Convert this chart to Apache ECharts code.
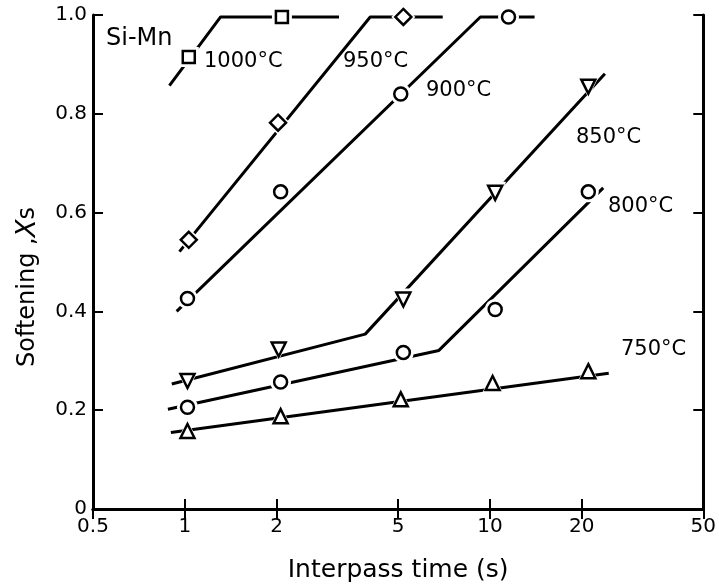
<!DOCTYPE html>
<html>
<head>
<meta charset="utf-8">
<script src="https://cdn.jsdelivr.net/npm/echarts@6/dist/echarts.min.js"></script>
<style>
  html, body {margin: 0; padding: 0; background: #fff;}
  #chart {width: 719px; height: 588px;}
</style>
</head>
<body>
<div id="chart"></div>
<script>
  // tick values and labels
  const xTicks = [0.5, 1, 2, 5, 10, 20, 50]
  const xTickLabels = ['0.5', '1', '2', '5', '10', '20', '50']
  const yTickLabels = ['0', '0.2', '0.4', '0.6', '0.8', '1.0']

  // measured points, [interpass time (s), softening]
  const pts1000 = [[1.03, 0.915], [2.08, 0.996]]
  const pts950 = [[1.03, 0.545], [2.02, 0.782], [5.2, 0.996]]
  const pts900 = [[1.02, 0.426], [2.06, 0.642], [5.1, 0.84], [11.5, 0.996]]
  const pts850 = [[1.02, 0.259], [2.03, 0.323], [5.2, 0.424], [10.4, 0.64], [21, 0.855]]
  const pts800 = [[1.02, 0.206], [2.06, 0.257], [5.2, 0.317], [10.4, 0.404], [21, 0.642]]
  const pts750 = [[1.02, 0.158], [2.06, 0.188], [5.1, 0.222], [10.2, 0.255], [21, 0.279]]

  // fitted lines (start, kinks, end)
  const fit1000 = [[0.89, 0.857], [1.31, 0.996], [3.2, 0.996]]
  const fit950 = [[0.96, 0.521], [4.05, 0.996], [7, 0.996]]
  const fit900 = [[0.94, 0.40], [9.3, 0.996], [14, 0.996]]
  const fit850 = [[0.906, 0.253], [3.9, 0.354], [23.8, 0.881]]
  const fit800 = [[0.88, 0.202], [6.8, 0.321], [23.5, 0.65]]
  const fit750 = [[0.9, 0.155], [24.5, 0.275]]

  const FONT = 'DejaVu Sans'
  const chart = echarts.init(document.getElementById('chart'))

  const groups = [
    {pts: pts1000, fit: fit1000, symbol: 'rect', size: 12, rotate: 0},
    {pts: pts950, fit: fit950, symbol: 'diamond', size: 16, rotate: 0},
    {pts: pts900, fit: fit900, symbol: 'circle', size: 13, rotate: 0},
    {pts: pts850, fit: fit850, symbol: 'triangle', size: 14, rotate: 180},
    {pts: pts800, fit: fit800, symbol: 'circle', size: 13, rotate: 0},
    {pts: pts750, fit: fit750, symbol: 'triangle', size: 14, rotate: 0}
  ]

  const series = []
  groups.forEach(g => {
    series.push({
      type: 'line', data: g.fit, showSymbol: false, silent: true, z: 2,
      lineStyle: {color: '#000', width: 3}
    })
    // white halo so the line breaks around each marker
    series.push({
      type: 'scatter', data: g.pts, symbol: g.symbol, symbolSize: g.size + 8,
      symbolRotate: g.rotate, z: 3, itemStyle: {color: '#fff', opacity: 1}
    })
    series.push({
      type: 'scatter', data: g.pts, symbol: g.symbol, symbolSize: g.size,
      symbolRotate: g.rotate, z: 4,
      itemStyle: {color: '#fff', borderColor: '#000', borderWidth: 2.5, opacity: 1}
    })
  })

  const txt = (x, y, s, size) => ({
    type: 'text', left: x, top: y,
    style: {text: s, font: (size || 21) + 'px "' + FONT + '"', fill: '#000'}
  })

  chart.setOption({
    animation: false,
    backgroundColor: '#fff',
    grid: {left: 93, right: 12, top: 15, bottom: 78},
    xAxis: [
      {
        type: 'log', logBase: 10, min: 0.5, max: 50,
        name: 'Interpass time (s)', nameLocation: 'middle', nameGap: 49,
        nameTextStyle: {fontFamily: FONT, fontSize: 25, color: '#000'},
        axisLine: {lineStyle: {color: '#000', width: 3}},
        axisTick: {inside: true, length: 10, customValues: xTicks, lineStyle: {color: '#000', width: 2}},
        axisLabel: {
          customValues: xTicks, margin: 8, fontFamily: FONT, fontSize: 20, color: '#000',
          formatter: v => xTickLabels[xTicks.indexOf(Math.round(v * 10) / 10)] || ''
        },
        splitLine: {show: false}
      },
      {
        type: 'log', logBase: 10, min: 0.5, max: 50, position: 'top',
        axisLine: {lineStyle: {color: '#000', width: 3}},
        axisTick: {inside: true, length: 10, customValues: xTicks, lineStyle: {color: '#000', width: 2}},
        axisLabel: {show: false},
        splitLine: {show: false}
      }
    ],
    yAxis: [
      {
        type: 'value', min: 0, max: 1, interval: 0.2,
        name: 'Softening ,{i|X}s', nameLocation: 'middle', nameGap: 52, nameRotate: 90,
        nameTextStyle: {
          fontFamily: FONT, fontSize: 24, color: '#000', padding: [0, 50, 0, 0],
          rich: {i: {fontFamily: FONT, fontSize: 26, fontStyle: 'italic', color: '#000'}}
        },
        axisLine: {show: true, lineStyle: {color: '#000', width: 3}},
        axisTick: {show: true, inside: true, length: 10, lineStyle: {color: '#000', width: 2}},
        axisLabel: {
          margin: 6, fontFamily: FONT, fontSize: 20, color: '#000',
          formatter: v => yTickLabels[Math.round(v * 5)]
        },
        splitLine: {show: false}
      },
      {
        type: 'value', min: 0, max: 1, interval: 0.2, position: 'right',
        axisLine: {show: true, lineStyle: {color: '#000', width: 3}},
        axisTick: {show: true, inside: true, length: 10, lineStyle: {color: '#000', width: 2}},
        axisLabel: {show: false},
        splitLine: {show: false}
      }
    ],
    graphic: [
      txt(106, 27, 'Si-Mn', 24),
      txt(204, 51, '1000°C'),
      txt(343, 51, '950°C'),
      txt(426, 80, '900°C'),
      txt(576, 127, '850°C'),
      txt(608, 196, '800°C'),
      txt(621, 339, '750°C')
    ],
    series
  })
</script>
</body>
</html>
